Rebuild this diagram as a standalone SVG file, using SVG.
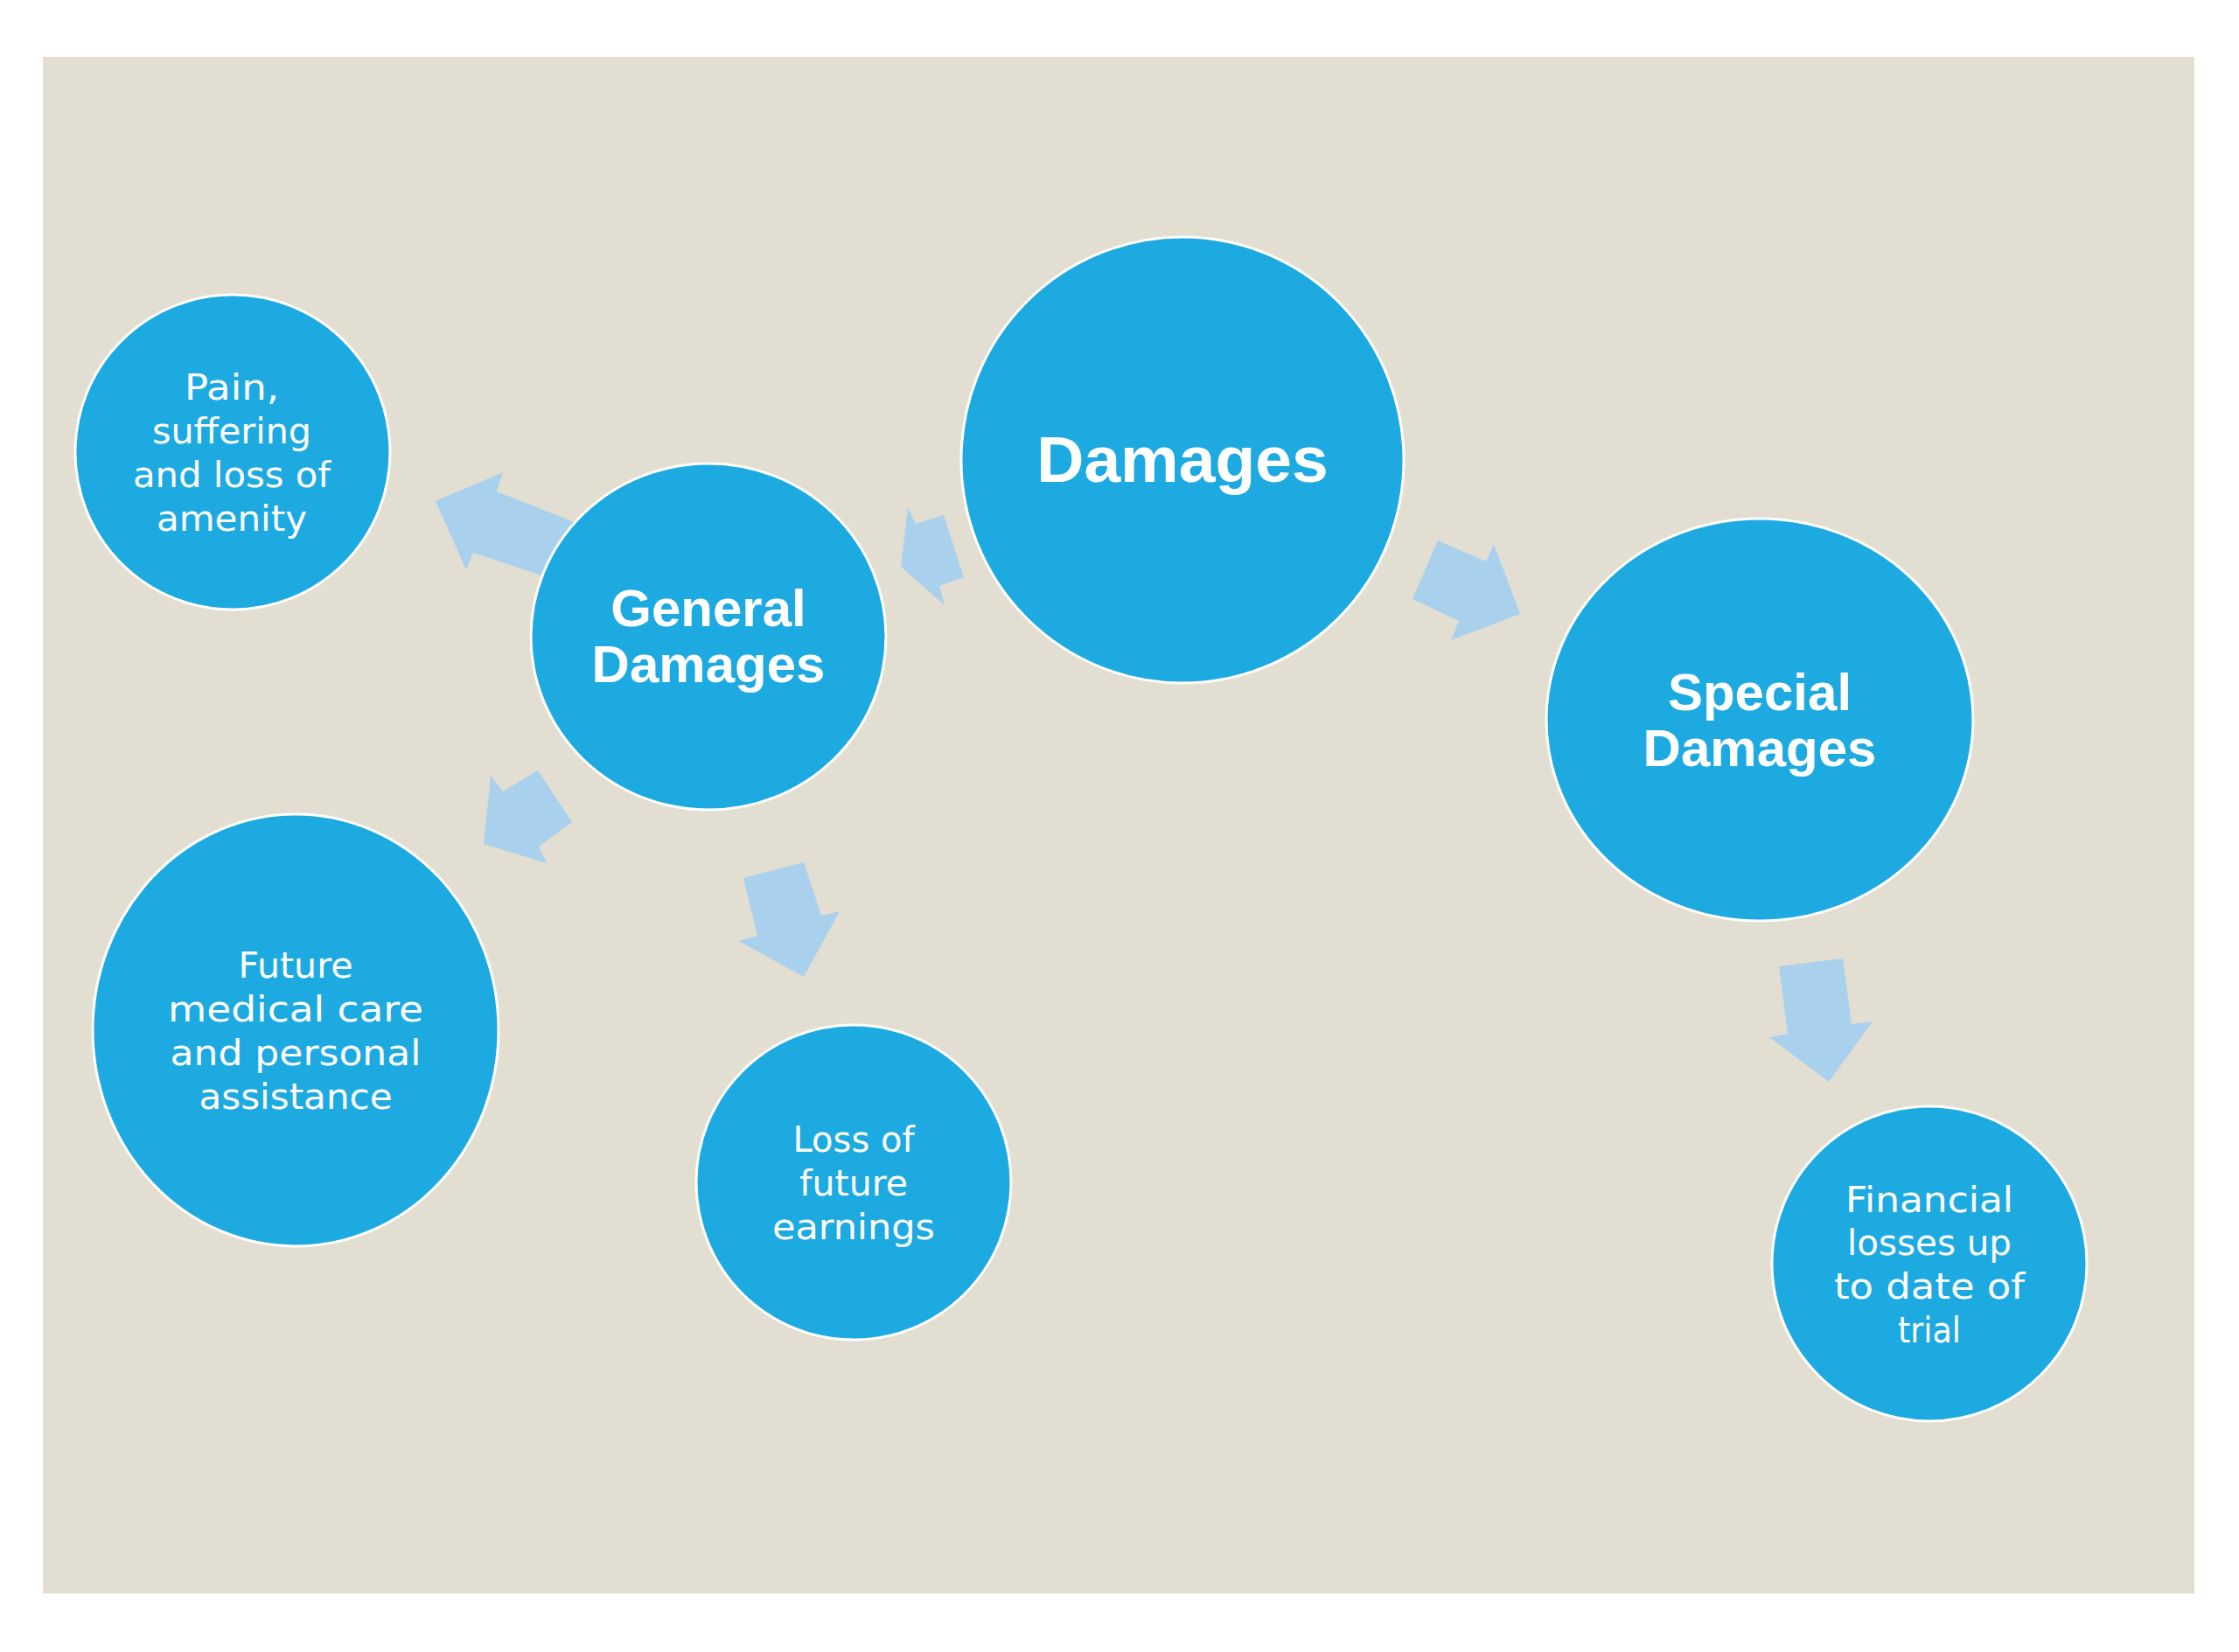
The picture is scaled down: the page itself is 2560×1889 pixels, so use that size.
<svg xmlns="http://www.w3.org/2000/svg" width="2560" height="1889" viewBox="0 0 2560 1889">
<style>
.node{fill:#1DAAE1;stroke:#FFFFFF;stroke-width:3}
.arrow{fill:#A9D1EE;stroke:none}
.bold{font-family:"Liberation Sans",Arial,sans-serif;font-weight:bold;fill:#FFFFFF;text-anchor:middle}
.main{font-size:75px}
.sub{font-size:60px}
.light{font-family:"DejaVu Sans","Liberation Sans",sans-serif;font-size:40px;fill:#FFFFFF;text-anchor:middle}
</style>
<rect x="0" y="0" width="2560" height="1889" fill="#FFFFFF"/>
<rect x="49" y="65" width="2460" height="1757" fill="#E2DED2"/>
<g id="connectors">
  <polygon class="arrow" points="498,573 575,540 568,562 664,600 637,664 541,632 533,652"/>
  <polygon class="arrow" points="1030,648 1038,580 1047,599 1079,589 1102,660 1074,670 1080,692"/>
  <polygon class="arrow" points="1644,618 1699,642 1708,622 1738,702 1659,732 1668,710 1615,685"/>
  <polygon class="arrow" points="553,965 561,887 575,905 615,881 654,940 616,968 625,987"/>
  <polygon class="arrow" points="850,1004 919,986 939,1047 960,1042 919,1117 845,1076 866,1070"/>
  <polygon class="arrow" points="2034,1105 2107,1096 2117,1171 2141,1168 2091,1237 2023,1186 2044,1182"/>
</g>
<g id="node-damages">
  <ellipse class="node" cx="1352" cy="526" rx="253" ry="255"/>
  <text class="bold main" x="1352" y="551">Damages</text>
</g>
<g id="node-general">
  <ellipse class="node" cx="810" cy="728" rx="203" ry="198"/>
  <text class="bold sub" x="810" y="716">General</text>
  <text class="bold sub" x="810" y="780">Damages</text>
</g>
<g id="node-special">
  <ellipse class="node" cx="2012" cy="823" rx="244" ry="230"/>
  <text class="bold sub" x="2012" y="812">Special</text>
  <text class="bold sub" x="2012" y="876">Damages</text>
</g>
<g id="node-pain">
  <circle class="node" cx="266" cy="517" r="180"/>
  <text class="light" x="265" y="457" textLength="108" lengthAdjust="spacingAndGlyphs">Pain,</text>
  <text class="light" x="265" y="507" textLength="182" lengthAdjust="spacingAndGlyphs">suffering</text>
  <text class="light" x="265" y="557" textLength="226" lengthAdjust="spacingAndGlyphs">and loss of</text>
  <text class="light" x="265" y="607" textLength="172" lengthAdjust="spacingAndGlyphs">amenity</text>
</g>
<g id="node-future-medical">
  <ellipse class="node" cx="338" cy="1178" rx="232" ry="247"/>
  <text class="light" x="338" y="1118" textLength="131" lengthAdjust="spacingAndGlyphs">Future</text>
  <text class="light" x="338" y="1168" textLength="292" lengthAdjust="spacingAndGlyphs">medical care</text>
  <text class="light" x="338" y="1218" textLength="287" lengthAdjust="spacingAndGlyphs">and personal</text>
  <text class="light" x="338" y="1268" textLength="221" lengthAdjust="spacingAndGlyphs">assistance</text>
</g>
<g id="node-loss-earnings">
  <circle class="node" cx="976" cy="1352" r="180"/>
  <text class="light" x="976" y="1317" textLength="139" lengthAdjust="spacingAndGlyphs">Loss of</text>
  <text class="light" x="976" y="1367" textLength="124" lengthAdjust="spacingAndGlyphs">future</text>
  <text class="light" x="976" y="1417" textLength="186" lengthAdjust="spacingAndGlyphs">earnings</text>
</g>
<g id="node-financial">
  <circle class="node" cx="2206" cy="1445" r="180"/>
  <text class="light" x="2206" y="1386" textLength="192" lengthAdjust="spacingAndGlyphs">Financial</text>
  <text class="light" x="2206" y="1435" textLength="188" lengthAdjust="spacingAndGlyphs">losses up</text>
  <text class="light" x="2206" y="1485" textLength="218" lengthAdjust="spacingAndGlyphs">to date of</text>
  <text class="light" x="2206" y="1535" textLength="72" lengthAdjust="spacingAndGlyphs">trial</text>
</g>
</svg>
